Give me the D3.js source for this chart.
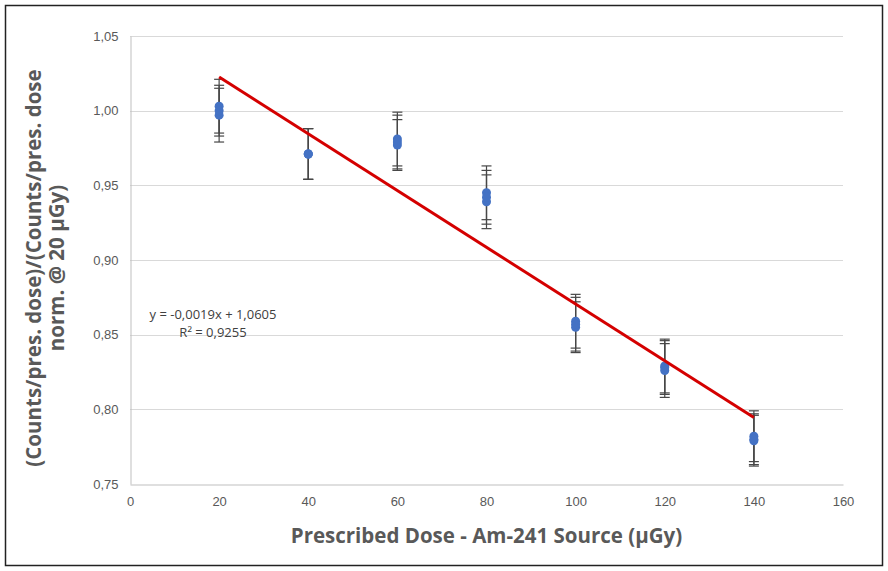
<!DOCTYPE html>
<html>
<head>
<meta charset="utf-8">
<script src="https://cdn.jsdelivr.net/npm/d3@7"></script>
<style>
  body { margin: 0; background: #fff; }
  svg { display: block; font-family: "Open Sans", "Noto Sans", sans-serif; }
</style>
</head>
<body>
<div id="vis"></div>
<script>
// doses (µGy) and the repeated measurements at each dose
const doses = [20, 20, 20, 40, 40, 40, 60, 60, 60, 80, 80, 80, 100, 100, 100, 120, 120, 120, 140, 140, 140];
const ratios = [1.003, 0.997, 1.000, 0.971, 0.971, 0.971, 0.981, 0.977, 0.979, 0.945, 0.939, 0.942,
                0.859, 0.855, 0.857, 0.829, 0.826, 0.828, 0.782, 0.779, 0.780];
const errors = [0.018, 0.018, 0.017, 0.017, 0.017, 0.017, 0.018, 0.017, 0.018, 0.018, 0.018, 0.018,
                0.018, 0.017, 0.018, 0.018, 0.018, 0.018, 0.017, 0.017, 0.017];
const xTicks = [0, 20, 40, 60, 80, 100, 120, 140, 160];
const yTicks = [0.75, 0.80, 0.85, 0.90, 0.95, 1.00, 1.05];
const slope = -0.0019, intercept = 1.0605;
const fitRange = [20, 140];

const W = 888, H = 571;
const margin = {top: 36, right: 45, bottom: 87, left: 130};
const width = W - margin.left - margin.right;
const height = H - margin.top - margin.bottom;

const root = d3.select('#vis').append('svg')
    .attr('width', W)
    .attr('height', H);

// outer frame
root.append('rect')
    .attr('x', 5.5).attr('y', 5.5)
    .attr('width', W - 11).attr('height', H - 11)
    .attr('fill', 'none')
    .attr('stroke', '#222')
    .attr('stroke-width', 1.5);

const svg = root.append('g')
    .attr('transform', `translate(${margin.left},${margin.top})`);

const xScale = d3.scaleLinear().domain([0, 160]).range([0, width]);
const yScale = d3.scaleLinear().domain([0.75, 1.05]).range([height, 0]);

const fmt = d => d3.format('.2f')(d).replace('.', ',');

// gridlines
svg.selectAll('.grid')
    .data(yTicks.slice(1))
    .join('line')
    .attr('class', 'grid')
    .attr('x1', 0).attr('x2', width)
    .attr('y1', d => Math.round(yScale(d)) + 0.5)
    .attr('y2', d => Math.round(yScale(d)) + 0.5)
    .attr('stroke', '#d9d9d9');

// axes
const xAxis = d3.axisBottom(xScale).tickValues(xTicks).tickSize(0).tickPadding(12);
const gx = svg.append('g')
    .attr('transform', `translate(0,${height + 0.5})`)
    .call(xAxis);
gx.select('.domain').attr('stroke', '#bfbfbf');

const yAxis = d3.axisLeft(yScale).tickValues(yTicks).tickFormat(fmt).tickSize(0).tickPadding(12);
const gy = svg.append('g')
    .attr('transform', 'translate(0.5,0)')
    .call(yAxis);
gy.select('.domain').attr('stroke', '#bfbfbf');

root.selectAll('.tick text')
    .attr('fill', '#595959')
    .style('font-size', '13px');

// error bars
const pts = doses.map((d, i) => ({x: d, y: ratios[i], e: errors[i]}));
const capW = 5;
const eb = svg.selectAll('.err').data(pts).join('g').attr('class', 'err')
    .attr('stroke', '#474747').attr('stroke-width', 1.2);
eb.append('line')
    .attr('x1', d => xScale(d.x)).attr('x2', d => xScale(d.x))
    .attr('y1', d => yScale(d.y + d.e)).attr('y2', d => yScale(d.y - d.e));
eb.append('line')
    .attr('x1', d => xScale(d.x) - capW).attr('x2', d => xScale(d.x) + capW)
    .attr('y1', d => yScale(d.y + d.e)).attr('y2', d => yScale(d.y + d.e));
eb.append('line')
    .attr('x1', d => xScale(d.x) - capW).attr('x2', d => xScale(d.x) + capW)
    .attr('y1', d => yScale(d.y - d.e)).attr('y2', d => yScale(d.y - d.e));

// points
svg.selectAll('.point').data(pts).join('circle')
    .attr('class', 'point')
    .attr('cx', d => xScale(d.x))
    .attr('cy', d => yScale(d.y))
    .attr('r', 4.5)
    .attr('fill', '#4472c4');

// linear trend line
svg.append('line')
    .attr('x1', xScale(fitRange[0])).attr('y1', yScale(slope * fitRange[0] + intercept))
    .attr('x2', xScale(fitRange[1])).attr('y2', yScale(slope * fitRange[1] + intercept))
    .attr('stroke', '#d40000')
    .attr('stroke-width', 3);

// equation label
root.append('text')
    .attr('x', 213).attr('y', 319)
    .attr('text-anchor', 'middle')
    .attr('fill', '#404040')
    .style('font-size', '13px')
    .text('y = -0,0019x + 1,0605');
root.append('text')
    .attr('x', 213).attr('y', 337)
    .attr('text-anchor', 'middle')
    .attr('fill', '#404040')
    .style('font-size', '13px')
    .text('R² = 0,9255');

// axis titles
root.append('text')
    .attr('x', margin.left + width / 2).attr('y', 543)
    .attr('text-anchor', 'middle')
    .attr('fill', '#595959')
    .style('font-size', '20.5px').style('font-weight', 'bold')
    .text('Prescribed Dose - Am-241 Source (µGy)');

const yt = root.append('text')
    .attr('transform', 'translate(0,268) rotate(-90)')
    .attr('text-anchor', 'middle')
    .attr('fill', '#595959')
    .style('font-size', '20.5px').style('font-weight', 'bold');
yt.append('tspan').attr('x', 0).attr('y', 41).text('(Counts/pres. dose)/(Counts/pres. dose');
yt.append('tspan').attr('x', 0).attr('y', 64).text('norm. @ 20 µGy)');
</script>
</body>
</html>
